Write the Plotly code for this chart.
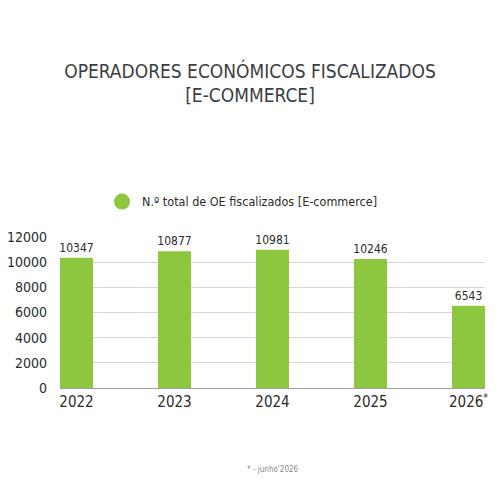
import plotly.graph_objects as go

categories = ["2022", "2023", "2024", "2025", "2026"]
tick_labels = ["2022", "2023", "2024", "2025", "2026<sup>*</sup>"]
values = [10347, 10877, 10981, 10246, 6543]
series_name = "N.º total de OE fiscalizados [E-commerce]"
title_text = "OPERADORES ECONÓMICOS FISCALIZADOS<br>[E-COMMERCE]"
footnote = "* - junho'2026"

FONT = "DejaVu Sans Condensed, Liberation Sans Narrow, sans-serif"
GREEN = "#8DC63F"
DARK = "#2b2b2b"

fig = go.Figure()
fig.add_trace(go.Bar(
    x=categories, y=values,
    marker=dict(color=GREEN, line=dict(width=0)),
    text=[str(v) for v in values], textposition="outside", constraintext="none",
    textfont=dict(family=FONT, size=12, color=DARK),
    cliponaxis=False, showlegend=False,
))
fig.add_trace(go.Scatter(
    x=[None], y=[None], mode="markers", name=series_name,
    marker=dict(color=GREEN, size=18, symbol="circle"),
))

fig.update_layout(
    width=500, height=500,
    margin=dict(l=60, r=15, t=237, b=112, autoexpand=False),
    paper_bgcolor="white", plot_bgcolor="white",
    bargap=0.663,
    font=dict(family=FONT, color=DARK),
    title=dict(text=title_text, x=0.5, xanchor="center", y=0.845, yanchor="middle",
               font=dict(family=FONT, size=19, color="#3a3d42")),
    legend=dict(orientation="h", xref="container", x=0.485, xanchor="center",
                y=1.232, yanchor="middle",
                font=dict(family=FONT, size=12.5, color=DARK), itemsizing="trace"),
    xaxis=dict(tickvals=categories, ticktext=tick_labels, range=[-0.168, 4.168],
               showline=True, linecolor="#a0a0a0", linewidth=1,
               tickfont=dict(family=FONT, size=15, color=DARK), ticks=""),
    yaxis=dict(range=[0, 12000], dtick=2000, tickformat="d", showgrid=True,
               gridcolor="#d6d6d6", zeroline=False,
               tickfont=dict(family=FONT, size=14, color=DARK),
               ticks="", ticklabelstandoff=12),
    annotations=[dict(text=footnote, x=0.5, y=-0.585, xref="paper", yref="paper",
                      showarrow=False, font=dict(family=FONT, size=8, color="#888888"))],
)

fig.write_html("out.html")
